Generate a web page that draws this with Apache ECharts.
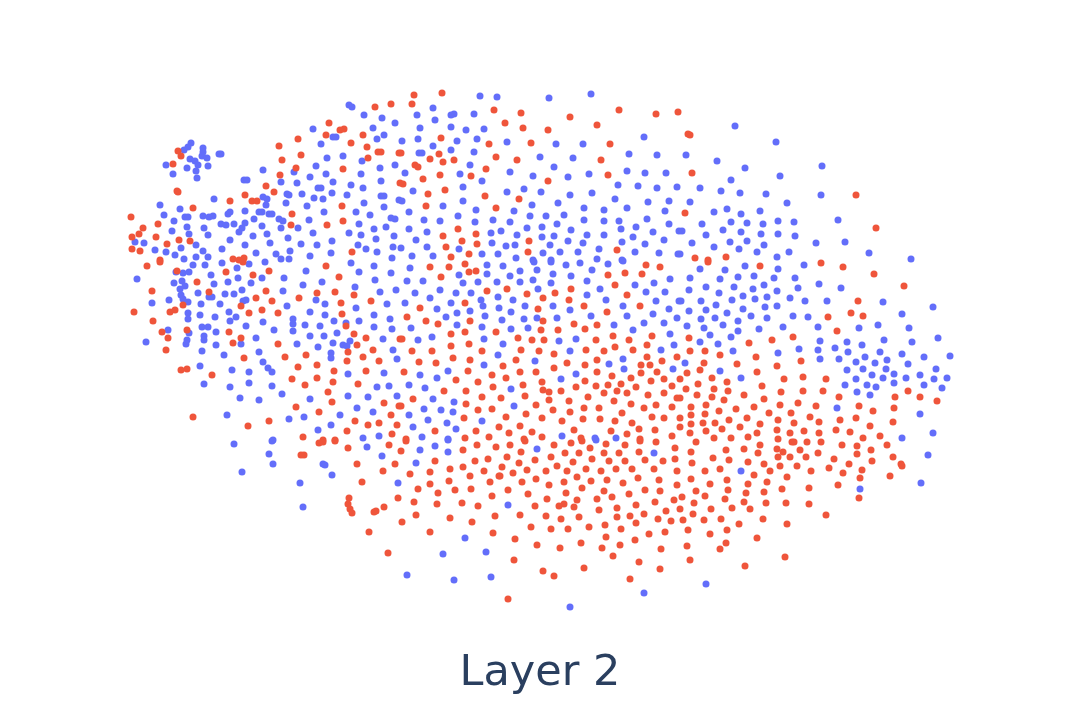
<!DOCTYPE html>
<html lang="en">
<head>
    <meta charset="UTF-8">
    <title>Layer 2</title>
    <style>
        html, body {
            margin: 0;
            background: #fff;
        }

        #chart {
            width: 1080px;
            height: 720px;
        }
    </style>
</head>
<body>
    <div id="chart"></div>

    <script src="https://cdn.jsdelivr.net/npm/echarts@6/dist/echarts.min.js"></script>
    <script>
        var chartTitle = 'Layer 2';
        var seriesNames = ['class 0', 'class 1'];

        // embedding values, [x, y], one list per area
        var blueUpperLeft = [[191,143],[188,147],[184,150],[203,148],[203,152],[202,156],[207,158],[190,159],[195,161],[198,165],[208,166],[187,168],[196,171],[197,178],[173,174],[166,165],[221,154],[219,154],
            [349,105],[352,107],[364,115],[382,118],[395,123],[313,129],[373,128],[333,137],[336,137],[321,144],[377,139],[384,135],[327,158],[343,156],[362,161],[395,165],[380,168],[316,166],[263,170],[294,172],[326,174],[361,174],[310,177],[244,180],[247,180],[281,182],[297,183],[333,182],[381,181],[351,185],[318,188],[321,188],[363,188],[332,193],[287,194],[289,195],[302,194],[347,195],[381,196],[384,196],[263,197],[267,199],[314,198],[323,199],[214,199],[399,200],[286,203],[266,205],[364,203],[160,205],[307,206],[180,209],[384,207],[245,211],[230,212],[228,214],[259,212],[262,212],[324,212],[356,212],[164,215],[185,217],[188,217],[203,216],[213,216],[209,217],[272,214],[269,214],[254,219],[370,215],[391,218],[395,219],[279,219],[283,221],[309,220],[174,221],[262,226],[221,224],[226,225],[234,224],[245,223],[242,228],[187,227],[204,228],[281,228],[298,228],[359,224],[386,227],[374,229],[172,231],[239,232],[189,234],[208,235],[267,234],[313,233],[253,236],[349,233],[361,235],[394,236],[288,238],[230,240],[332,241],[376,239],[135,242],[144,243],[270,243],[245,245],[301,244],[317,245],[393,247],[196,245],[358,245],[366,249],[155,250],[181,248],[222,249],[290,251],[377,252],[331,253],[166,252],[175,255],[203,251],[256,253],[276,254],[310,256],[196,257],[208,257],[184,259],[281,259],[289,259],[392,258]];
        var blueLowerLeft = [[137,279],[176,272],[183,273],[189,272],[193,265],[205,265],[222,263],[211,275],[237,268],[249,264],[265,262],[306,271],[322,282],[303,285],[351,263],[359,272],[374,266],[391,273],[375,280],[355,287],[380,292],[396,290],[182,281],[174,283],[185,286],[180,289],[214,284],[228,282],[238,278],[251,283],[262,278],[284,278],[181,295],[198,293],[209,297],[212,297],[225,294],[234,294],[242,290],[283,291],[169,300],[152,303],[183,299],[188,302],[201,304],[220,304],[243,301],[246,300],[287,306],[316,300],[325,304],[356,308],[387,304],[310,312],[229,312],[188,313],[188,319],[200,315],[215,317],[236,317],[230,321],[263,322],[246,326],[293,319],[293,324],[305,325],[325,315],[334,321],[346,323],[359,321],[374,315],[390,319],[320,326],[374,327],[392,329],[168,330],[202,327],[208,327],[216,332],[274,330],[293,331],[337,333],[189,333],[204,336],[204,340],[310,336],[324,336],[383,339],[256,338],[187,340],[186,344],[146,342],[241,344],[216,345],[297,344],[333,343],[343,345],[350,341],[347,346],[318,347],[202,351],[259,352],[393,350],[331,353],[331,358],[224,355],[397,359],[263,362],[200,366],[232,370],[249,372],[268,368],[272,372],[348,374],[384,373],[204,384],[230,387],[249,383],[272,386],[377,387],[389,386],[282,394],[240,398],[259,400],[310,399],[348,396],[368,397],[397,396],[357,408],[373,412],[340,415],[227,415],[304,417],[289,419],[331,425],[318,430],[379,436],[363,438],[273,440]];
        var blueUpperMiddle = [[480,96],[497,97],[549,98],[591,94],[433,108],[417,115],[454,114],[451,115],[474,114],[435,120],[451,127],[420,128],[466,130],[484,129],[418,139],[402,141],[457,141],[477,139],[507,142],[433,146],[556,144],[583,144],[644,137],[419,153],[422,153],[451,150],[474,152],[540,157],[573,158],[629,154],[657,155],[470,165],[554,167],[405,173],[460,174],[510,172],[533,176],[568,177],[589,174],[627,171],[645,173],[666,173],[482,181],[618,185],[463,187],[413,191],[507,192],[524,189],[541,192],[638,186],[657,188],[677,187],[570,195],[592,193],[615,199],[402,201],[463,201],[443,206],[558,203],[648,202],[669,201],[532,205],[476,210],[514,211],[584,208],[604,210],[627,208],[665,211],[409,212],[458,216],[530,216],[546,216],[564,215],[424,220],[440,221],[493,220],[475,222],[510,222],[584,220],[604,221],[619,221],[647,219],[669,224],[557,224],[409,229],[542,227],[527,228],[621,229],[636,227],[427,232],[501,231],[491,233],[571,230],[653,232],[679,231],[517,235],[554,236],[542,237],[587,235],[604,235],[633,237],[416,240],[568,241],[583,243],[492,243],[515,245],[506,246],[550,245],[622,242],[645,244],[664,240],[427,247],[401,248],[459,249],[599,249],[560,252],[578,252],[635,252],[659,253],[678,254],[412,256],[433,256],[482,254],[498,254],[543,253],[516,258],[597,259],[622,260],[533,260],[551,260]];
        var blueLowerMiddle = [[410,268],[487,265],[503,266],[534,262],[551,262],[566,265],[580,263],[608,264],[623,261],[459,275],[487,274],[510,276],[520,271],[537,270],[553,274],[571,276],[592,270],[407,281],[423,281],[463,283],[478,282],[497,282],[520,282],[533,280],[551,283],[587,281],[635,285],[654,283],[670,279],[440,290],[538,289],[600,289],[415,293],[456,293],[471,293],[646,292],[665,292],[430,298],[498,297],[587,295],[405,303],[451,303],[481,300],[513,300],[606,300],[656,301],[679,301],[483,306],[525,306],[553,306],[623,306],[437,309],[499,308],[570,310],[669,309],[457,313],[470,311],[511,312],[446,317],[485,316],[524,319],[537,318],[557,318],[591,316],[627,316],[653,314],[677,318],[502,320],[614,325],[644,323],[664,323],[457,325],[411,328],[482,327],[511,329],[528,328],[633,330],[670,334],[432,337],[418,340],[484,339],[559,341],[576,339],[674,345],[503,344],[661,350],[570,351],[498,355],[623,359],[535,361],[609,364],[484,365],[624,369],[673,369],[448,371],[420,375],[576,374],[437,378],[561,379],[409,385],[425,388],[511,389],[433,399],[454,402],[424,409],[441,410],[514,406],[453,412],[409,415],[428,420],[482,421],[447,423],[413,427],[456,429],[422,437],[562,436],[595,438],[616,438],[448,439]];
        var blueRight = [[735,126],[776,142],[686,155],[717,161],[822,166],[745,168],[780,176],[731,180],[700,188],[721,191],[740,193],[766,194],[821,195],[787,203],[690,202],[727,209],[714,212],[741,214],[760,211],[838,220],[778,221],[794,222],[702,224],[731,222],[747,223],[763,224],[682,231],[723,230],[741,232],[761,234],[778,234],[795,236],[706,235],[747,241],[692,243],[730,242],[764,245],[816,243],[845,242],[714,247],[739,249],[757,252],[789,252],[869,253],[777,257],[911,259],[680,254],
            [745,266],[804,265],[778,269],[700,269],[725,270],[690,278],[720,279],[738,277],[754,276],[774,278],[795,278],[706,287],[734,287],[764,285],[819,284],[753,289],[777,291],[798,288],[841,288],[689,290],[719,293],[743,296],[767,297],[755,299],[790,298],[681,301],[701,301],[732,300],[805,301],[827,301],[883,302],[716,305],[765,307],[777,306],[933,307],[689,311],[706,310],[743,309],[727,313],[902,314],[701,319],[715,318],[738,321],[751,316],[767,318],[793,316],[808,317],[687,326],[704,328],[723,325],[783,327],[818,327],[878,325],[859,328],[909,328],[759,329],[738,331],[710,335],[731,337],[700,342],[718,344],[820,341],[847,342],[884,340],[912,342],[938,338],[862,345],[733,351],[778,353],[799,349],[818,350],[835,348],[848,352],[880,352],[902,354],[950,356],[924,357],[865,357],[820,359],[839,359],[887,360],[875,363],[856,362],[908,364],[685,363],[886,369],[863,369],[847,370],[936,369],[720,371],[894,374],[872,375],[920,375],[741,378],[856,379],[883,378],[906,378],[934,379],[947,378],[894,383],[845,385],[867,385],[924,385],[876,387],[942,388],[857,392],[870,395],[837,408],[920,414],[933,433],[902,438]];
        var blueBottom = [[234,444],[272,441],[269,454],[367,447],[382,456],[420,450],[435,446],[448,452],[448,440],[273,464],[242,472],[323,464],[325,465],[332,475],[416,463],[300,483],[398,483],[303,507],[465,538],[443,554],[486,552],[407,575],[454,580],[491,577],[537,449],[654,453],[596,440],[741,471],[508,505],[706,584],[644,593],[570,607],[928,455],[921,483],[860,489]];

        var redUpperLeft = [[391,104],[375,107],[329,123],[344,129],[340,130],[326,135],[363,135],[298,139],[279,146],[351,143],[367,147],[378,152],[381,152],[399,153],[368,158],[301,155],[282,160],[178,151],[181,156],[173,164],[296,168],[343,169],[280,175],[177,191],[178,192],[266,186],[274,192],[245,195],[252,201],[257,201],[230,201],[193,208],[342,206],[292,214],[291,225],[327,225],[343,221],[131,217],[158,224],[143,228],[139,234],[132,237],[156,237],[179,240],[190,241],[167,244],[132,249],[140,251],[352,252],[233,259],[244,258],[239,260],[160,260],[400,183]];
        var redLowerLeft = [[147,266],[160,262],[177,271],[197,282],[226,272],[243,262],[253,275],[269,271],[326,266],[339,277],[152,291],[209,292],[266,291],[317,293],[335,292],[354,295],[256,298],[272,301],[299,298],[371,301],[341,303],[183,305],[241,306],[134,312],[170,312],[175,310],[262,310],[249,313],[278,313],[342,314],[153,321],[346,326],[162,332],[187,330],[229,332],[354,334],[168,338],[241,338],[233,343],[278,344],[366,338],[357,345],[400,339],[166,350],[373,350],[348,352],[244,358],[285,357],[306,355],[363,357],[379,361],[347,361],[317,365],[298,367],[181,370],[187,369],[334,371],[366,371],[212,375],[292,379],[317,378],[333,382],[358,384],[305,385],[328,392],[332,402],[296,407],[384,403],[399,406],[319,412],[391,415],[193,417],[248,426],[269,421],[355,421],[368,425],[379,423],[397,425],[347,431],[392,434],[303,437],[323,440],[335,440]];
        var redUpperMiddle = [[414,95],[442,93],[412,104],[494,110],[521,113],[570,117],[619,110],[656,114],[678,112],[505,123],[597,125],[523,128],[548,130],[441,138],[489,144],[531,143],[610,144],[401,153],[439,154],[430,159],[443,162],[454,160],[496,157],[517,160],[601,160],[415,165],[418,167],[486,169],[440,175],[471,176],[423,179],[608,175],[548,181],[403,184],[445,190],[428,194],[485,196],[519,199],[426,206],[496,208],[458,229],[476,234],[443,236],[462,241],[529,241],[477,244],[446,247],[528,252],[469,254],[617,250],[451,257]];
        var redLowerMiddle = [[430,267],[449,267],[465,264],[469,272],[476,271],[646,265],[660,267],[441,277],[608,275],[625,273],[642,274],[615,285],[487,291],[507,289],[571,289],[527,294],[555,293],[627,295],[543,298],[569,300],[465,303],[420,308],[584,306],[640,306],[538,309],[607,312],[407,317],[426,321],[470,321],[438,324],[543,321],[574,324],[597,325],[585,329],[541,330],[558,330],[451,334],[465,332],[496,332],[613,336],[652,336],[402,339],[518,338],[532,340],[544,340],[596,340],[629,340],[451,346],[469,344],[647,345],[615,347],[412,351],[432,351],[482,351],[521,350],[539,351],[586,350],[604,351],[633,350],[554,354],[453,358],[647,357],[677,357],[470,360],[516,360],[597,360],[419,362],[436,363],[567,363],[662,361],[503,366],[585,365],[641,365],[650,365],[404,372],[468,371],[520,372],[536,372],[554,368],[597,372],[641,373],[657,372],[492,375],[506,378],[612,376],[631,378],[664,379],[456,380],[585,381],[478,382],[542,382],[651,381],[621,384],[680,379],[523,385],[493,387],[576,387],[596,386],[608,385],[636,387],[672,386],[444,391],[466,391],[543,390],[549,392],[561,391],[604,393],[617,391],[627,393],[664,393],[648,395],[525,396],[482,397],[501,398],[413,399],[588,397],[677,398],[549,400],[569,401],[614,401],[466,404],[631,404],[536,405],[656,405],[401,406],[672,407],[584,408],[599,408],[644,408],[478,410],[492,409],[553,410],[570,412],[622,413],[526,414],[464,418],[506,417],[542,418],[583,419],[600,419],[652,417],[664,418],[680,418],[562,421],[615,421],[632,423],[520,426],[499,427],[435,431],[476,431],[532,432],[574,430],[611,431],[639,429],[655,430],[509,433],[627,434],[672,436],[465,438],[489,437],[542,437],[581,438],[524,439],[640,439],[406,439]];
        var redRight = [[688,134],[690,135],[692,173],[856,195],[685,213],[876,228],[695,258],[726,257],[708,260],
            [708,262],[760,266],[821,263],[843,267],[874,274],[904,286],[858,301],[851,313],[863,316],[828,317],[837,331],[689,338],[793,337],[749,343],[772,340],[690,351],[705,351],[720,355],[756,357],[801,361],[704,363],[737,364],[777,366],[687,373],[700,370],[757,372],[712,378],[727,382],[784,379],[803,377],[826,379],[698,384],[686,389],[714,389],[762,386],[728,391],[781,392],[803,391],[823,391],[908,391],[697,395],[744,395],[895,397],[920,397],[839,397],[712,397],[680,398],[764,399],[724,400],[937,401],[798,403],[691,407],[706,405],[736,409],[754,407],[780,405],[816,406],[859,406],[894,408],[719,411],[873,411],[769,413],[791,413],[691,415],[705,414],[747,418],[810,417],[778,420],[729,420],[840,420],[856,418],[691,424],[703,423],[715,423],[760,424],[794,423],[819,422],[893,422],[870,426],[740,427],[680,427],[722,429],[777,430],[836,430],[850,432],[804,431],[819,433],[690,433],[706,431],[757,433],[790,433],[880,436],[863,438],[714,438],[731,438],[748,437],[778,439]];
        var redBottomLeft = [[323,442],[319,443],[335,441],[406,441],[477,445],[348,448],[389,445],[463,450],[496,447],[304,455],[301,455],[401,451],[435,461],[357,464],[395,464],[475,461],[488,459],[463,467],[450,469],[383,471],[430,472],[484,471],[410,474],[470,476],[499,476],[362,482],[449,481],[490,482],[430,484],[418,489],[455,490],[471,489],[438,493],[492,496],[398,498],[349,498],[414,502],[437,504],[462,503],[478,506],[348,504],[350,509],[352,513],[384,507],[374,512],[376,511],[416,515],[495,516],[450,518],[402,522],[472,522],[430,532],[369,532],[493,533],[388,553]];
        var redBottomMiddle = [[510,445],[525,441],[554,445],[571,443],[582,441],[590,448],[606,444],[625,445],[640,441],[656,442],[675,448],[696,442],[726,450],[744,449],[760,445],[777,449],[521,452],[507,457],[565,453],[579,453],[604,453],[619,453],[639,452],[691,452],[758,453],[551,457],[535,460],[592,459],[609,461],[625,461],[645,460],[663,461],[675,459],[692,463],[713,458],[729,460],[748,462],[764,464],[778,457],[519,463],[573,462],[557,466],[502,467],[527,470],[586,469],[616,469],[632,469],[654,469],[720,469],[780,466],[513,473],[546,471],[567,471],[601,471],[677,471],[705,471],[770,471],[754,475],[500,476],[577,477],[536,479],[638,478],[607,480],[659,480],[691,479],[727,480],[522,482],[564,482],[591,481],[623,483],[767,482],[748,484],[549,485],[677,485],[710,484],[508,490],[582,488],[604,491],[645,490],[660,491],[696,491],[728,490],[764,492],[566,493],[528,494],[629,494],[746,493],[705,496],[612,497],[682,497],[725,499],[547,499],[577,500],[597,499],[674,500],[744,502],[655,502],[694,503],[766,503],[564,504],[559,506],[535,506],[636,505],[574,507],[617,508],[711,509],[732,508],[750,509],[599,510],[680,509],[666,511],[644,514],[693,514],[520,515],[546,516],[630,516],[579,517],[617,517],[561,519],[658,519],[683,520],[671,521],[704,520],[721,519],[763,519],[636,523],[739,524],[605,525],[531,527],[589,527],[551,529],[568,529],[621,529],[688,530],[727,530],[665,532],[649,534],[710,534],[606,537],[515,539],[635,540],[757,538],[581,543],[620,545],[537,545],[726,543],[560,548],[602,548],[661,549],[687,546],[720,549],[613,556],[514,560],[639,562],[690,560],[584,568],[745,566],[660,569],[543,571],[554,576],[630,579],[508,599]];
        var redBottomRight = [[792,442],[794,442],[807,442],[821,442],[842,445],[857,446],[887,445],[783,452],[800,450],[818,453],[871,450],[857,454],[790,457],[806,457],[834,459],[893,457],[872,461],[849,464],[901,464],[902,466],[797,466],[829,468],[862,470],[811,471],[843,473],[890,476],[787,477],[860,478],[838,485],[782,489],[809,488],[859,498],[786,503],[809,504],[826,515],[787,524],[785,557]];

        var blueValues = [].concat(blueUpperLeft, blueLowerLeft, blueUpperMiddle, blueLowerMiddle, blueRight, blueBottom);
        var redValues = [].concat(redUpperLeft, redLowerLeft, redUpperMiddle, redLowerMiddle, redRight, redBottomLeft, redBottomMiddle, redBottomRight);

        var myChart = echarts.init(document.getElementById('chart'), null, { renderer: 'canvas' });

        myChart.setOption({
            animation: false,
            backgroundColor: '#fff',
            title: {
                text: chartTitle,
                left: 'center',
                top: 647,
                textStyle: {
                    color: '#2a3f5f',
                    fontFamily: 'DejaVu Sans',
                    fontSize: 43,
                    fontWeight: 'normal'
                }
            },
            grid: { left: 0, right: 0, top: 0, bottom: 0 },
            xAxis: { type: 'value', min: 0, max: 1080, show: false },
            yAxis: { type: 'value', min: 0, max: 720, inverse: true, show: false },
            series: [
                {
                    name: seriesNames[0],
                    type: 'scatter',
                    data: blueValues,
                    symbolSize: 7,
                    itemStyle: { color: '#636efa', opacity: 1 }
                },
                {
                    name: seriesNames[1],
                    type: 'scatter',
                    data: redValues,
                    symbolSize: 7,
                    itemStyle: { color: '#ef553b', opacity: 1 }
                }
            ]
        });
    </script>
</body>
</html>
